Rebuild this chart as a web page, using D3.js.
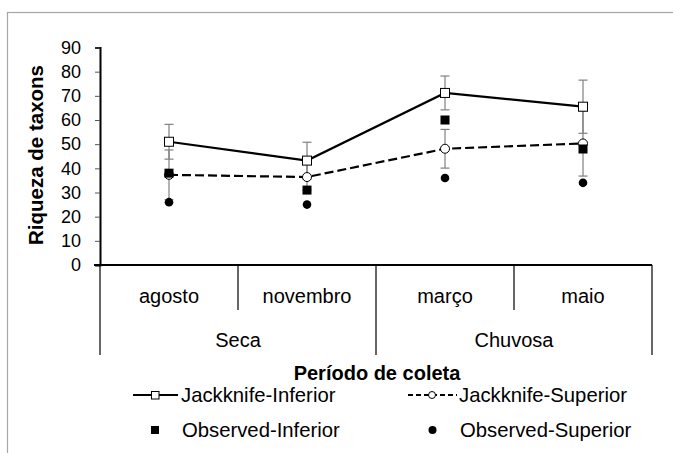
<!DOCTYPE html>
<html>
<head>
<meta charset="utf-8">
<script src="https://cdn.jsdelivr.net/npm/d3@7"></script>
<style>
  html, body { margin: 0; padding: 0; background: #fff; }
  svg { display: block; font-family: "Liberation Sans", Arial, sans-serif; }
</style>
</head>
<body>
<svg id="chart" width="673" height="453"></svg>
<script>
// Sampling months and their season groups
const months = ["agosto", "novembro", "março", "maio"];
const seasons = ["Seca", "Chuvosa"];
const seasonMonths = [["agosto", "novembro"], ["março", "maio"]];

// Richness estimates (Jackknife) with their error margins, and observed richness
const jackInferior = [51, 43.2, 71.2, 65.5];
const jackInferiorErr = [7.2, 7.6, 7, 11];
const jackSuperior = [37.3, 36.4, 48.1, 50.3];
const jackSuperiorErr = [10.3, 5.5, 8, 13.5];
const obsInferior = [38, 31, 60, 48];
const obsSuperior = [26, 25, 36, 34];

const yTicks = [0, 10, 20, 30, 40, 50, 60, 70, 80, 90];

const svg = d3.select("#chart");
const plotLeft = 100, plotRight = 652, plotTop = 47.5, plotBottom = 265;

// outer frame
svg.append("rect")
  .attr("x", 7.5).attr("y", 12.5).attr("width", 700).attr("height", 500)
  .attr("fill", "none").attr("stroke", "#a6a6a6").attr("stroke-width", 1.2);

const x = d3.scaleBand().domain(months).range([plotLeft, plotRight]).padding(0);
const y = d3.scaleLinear().domain([0, 90]).range([plotBottom, plotTop]);
const cx = m => x(m) + x.bandwidth() / 2;

// y axis
const yAxis = svg.append("g").attr("transform", `translate(${plotLeft},0)`)
  .call(d3.axisLeft(y).tickValues(yTicks).tickSize(5).tickPadding(14));
yAxis.select(".domain").attr("stroke", "#000").attr("stroke-width", 2);
yAxis.selectAll(".tick line").attr("stroke", "#555").attr("stroke-width", 1);
yAxis.selectAll(".tick text")
  .attr("font-size", 18).attr("fill", "#000")
  .attr("font-family", "Liberation Sans, Arial, sans-serif");

svg.append("text")
  .attr("transform", "translate(35,155) rotate(-90)")
  .attr("text-anchor", "middle").attr("dominant-baseline", "central")
  .attr("font-size", 20.5).attr("font-weight", "bold")
  .text("Riqueza de taxons");

// category axis: baseline and divider grid
svg.append("line")
  .attr("x1", 94).attr("x2", plotRight).attr("y1", plotBottom).attr("y2", plotBottom)
  .attr("stroke", "#000").attr("stroke-width", 2);

const monthRowEnd = 310, seasonRowEnd = 355;
const dividers = [];
months.forEach((m, i) => {
  dividers.push({ x: x(m), full: i % 2 === 0 });
});
dividers.push({ x: plotRight, full: true });
svg.selectAll("line.divider").data(dividers).enter().append("line")
  .attr("class", "divider")
  .attr("x1", d => d.x).attr("x2", d => d.x)
  .attr("y1", plotBottom).attr("y2", d => d.full ? seasonRowEnd : monthRowEnd)
  .attr("stroke", "#000").attr("stroke-width", 1.2);

svg.selectAll("text.month").data(months).enter().append("text")
  .attr("class", "month")
  .attr("x", d => cx(d)).attr("y", 296)
  .attr("text-anchor", "middle").attr("dominant-baseline", "central")
  .attr("font-size", 20).text(d => d);

svg.selectAll("text.season").data(seasons).enter().append("text")
  .attr("class", "season")
  .attr("x", (d, i) => (x(seasonMonths[i][0]) + x(seasonMonths[i][1]) + x.bandwidth()) / 2)
  .attr("y", 340)
  .attr("text-anchor", "middle").attr("dominant-baseline", "central")
  .attr("font-size", 20).text(d => d);

svg.append("text")
  .attr("x", 377).attr("y", 373)
  .attr("text-anchor", "middle").attr("dominant-baseline", "central")
  .attr("font-size", 20).attr("font-weight", "bold")
  .text("Período de coleta");

// error bars
const errColor = "#808080";
function errorBars(vals, errs, cls) {
  const g = svg.append("g").attr("class", cls);
  const rows = months.map((m, i) => ({ m, v: vals[i], e: errs[i] }));
  g.selectAll("line.v").data(rows).enter().append("line")
    .attr("x1", d => cx(d.m)).attr("x2", d => cx(d.m))
    .attr("y1", d => y(d.v + d.e)).attr("y2", d => y(d.v - d.e))
    .attr("stroke", errColor).attr("stroke-width", 1.2);
  [1, -1].forEach(s => {
    g.selectAll("line.c" + (s > 0 ? "t" : "b")).data(rows).enter().append("line")
      .attr("x1", d => cx(d.m) - 4.5).attr("x2", d => cx(d.m) + 4.5)
      .attr("y1", d => y(d.v + s * d.e)).attr("y2", d => y(d.v + s * d.e))
      .attr("stroke", errColor).attr("stroke-width", 1.2);
  });
}
errorBars(jackSuperior, jackSuperiorErr, "err-sup");
errorBars(jackInferior, jackInferiorErr, "err-inf");

// lines
const line = d3.line().x((d, i) => cx(months[i])).y(d => y(d));
svg.append("path").datum(jackSuperior)
  .attr("d", line).attr("fill", "none").attr("stroke", "#000")
  .attr("stroke-width", 2.2).attr("stroke-dasharray", "9,4");
svg.append("path").datum(jackInferior)
  .attr("d", line).attr("fill", "none").attr("stroke", "#000")
  .attr("stroke-width", 2.2);

// markers
svg.selectAll("circle.jsup").data(jackSuperior).enter().append("circle")
  .attr("cx", (d, i) => cx(months[i])).attr("cy", d => y(d)).attr("r", 4.5)
  .attr("fill", "#fff").attr("stroke", "#000").attr("stroke-width", 1);
svg.selectAll("rect.oinf").data(obsInferior).enter().append("rect")
  .attr("x", (d, i) => cx(months[i]) - 4.5).attr("y", d => y(d) - 4.5)
  .attr("width", 9).attr("height", 9).attr("fill", "#000");
svg.selectAll("circle.osup").data(obsSuperior).enter().append("circle")
  .attr("cx", (d, i) => cx(months[i])).attr("cy", d => y(d)).attr("r", 4.3)
  .attr("fill", "#000");
svg.selectAll("rect.jinf").data(jackInferior).enter().append("rect")
  .attr("x", (d, i) => cx(months[i]) - 4.5).attr("y", d => y(d) - 4.5)
  .attr("width", 9).attr("height", 9)
  .attr("fill", "#fff").attr("stroke", "#000").attr("stroke-width", 1);

// legend
const legend = svg.append("g").attr("class", "legend");
const legendFont = 20.3;
// Jackknife-Inferior
legend.append("line").attr("x1", 133).attr("x2", 178).attr("y1", 395).attr("y2", 395)
  .attr("stroke", "#000").attr("stroke-width", 2.2);
legend.append("rect").attr("x", 151.5).attr("y", 391.5).attr("width", 7.5).attr("height", 7.5)
  .attr("fill", "#fff").attr("stroke", "#000").attr("stroke-width", 1);
legend.append("text").attr("x", 181).attr("y", 395).attr("dominant-baseline", "central")
  .attr("font-size", legendFont).text("Jackknife-Inferior");
// Jackknife-Superior
legend.append("line").attr("x1", 408).attr("x2", 457).attr("y1", 395).attr("y2", 395)
  .attr("stroke", "#000").attr("stroke-width", 2.2).attr("stroke-dasharray", "5,3");
legend.append("circle").attr("cx", 432).attr("cy", 395).attr("r", 3.5)
  .attr("fill", "#fff").attr("stroke", "#000").attr("stroke-width", 1);
legend.append("text").attr("x", 459).attr("y", 395).attr("dominant-baseline", "central")
  .attr("font-size", legendFont).text("Jackknife-Superior");
// Observed-Inferior
legend.append("rect").attr("x", 151).attr("y", 426).attr("width", 8).attr("height", 8)
  .attr("fill", "#000");
legend.append("text").attr("x", 182).attr("y", 430).attr("dominant-baseline", "central")
  .attr("font-size", legendFont).text("Observed-Inferior");
// Observed-Superior
legend.append("circle").attr("cx", 432.5).attr("cy", 430).attr("r", 4).attr("fill", "#000");
legend.append("text").attr("x", 460).attr("y", 430).attr("dominant-baseline", "central")
  .attr("font-size", legendFont).text("Observed-Superior");
</script>
</body>
</html>
